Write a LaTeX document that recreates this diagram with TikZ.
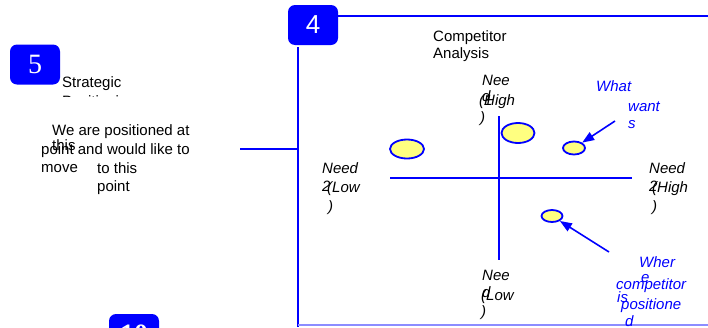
\documentclass[tikz,border=0pt]{standalone}
\usepackage{fontspec}
\setmainfont{Liberation Sans}
\newfontfamily\numfont{Liberation Serif}
\usetikzlibrary{shapes.geometric,arrows.meta}
\definecolor{pblue}{RGB}{0,0,255}
\definecolor{pyellow}{RGB}{255,255,128}
\definecolor{lblue}{RGB}{140,140,255}
\begin{document}
\begin{tikzpicture}[x=1pt,y=-1pt,
  numbox/.style={draw=none,fill=pblue,rounded corners=7pt,minimum width=50pt,minimum height=40pt,text=white,font=\numfont\fontsize{28}{28}\selectfont,inner sep=0},
  lbl/.style={anchor=base west,inner sep=0,font=\fontsize{15}{17}\selectfont},
  ilbl/.style={lbl,font=\fontsize{15}{17}\selectfont\itshape},
  blbl/.style={ilbl,text=pblue},
  frameline/.style={draw=pblue,line width=1.8pt},
  axisline/.style={draw=pblue,line width=1.8pt},
  blob/.style={ellipse,draw=pblue,fill=pyellow,line width=1.8pt,inner sep=0},
  pointer/.style={draw=pblue,line width=1.6pt,-{Triangle[length=12pt,width=9pt]}}]
\useasboundingbox (0,0) rectangle (708,327);
\clip (0,0) rectangle (708,327);

% frame
\coordinate (topL) at (338,16);
\coordinate (topR) at (708,16);
\coordinate (leftT) at (298,47);
\coordinate (leftB) at (298,327);
\coordinate (botL) at (298,325);
\coordinate (botR) at (708,325);
\coordinate (stubL) at (240,149);
\coordinate (stubR) at (298,149);
\draw[frameline] (topL) -- (topR);
\draw[frameline] (leftT) -- (leftB);
\draw[frameline] (stubL) -- (stubR);
\draw[draw=lblue,line width=1.8pt] (botL) -- (botR);

% number boxes
\node[numbox,font=\fontsize{26}{26}\selectfont] (b4) at (313,25) {4};
\node[numbox] (b5) at (35,64.5) {5};
\node[numbox,font=\numfont\bfseries\fontsize{28}{28}\selectfont] (b10) at (134,334) {10};

% left block
\node[lbl] (strat) at (62,87) {Strategic};
\begin{scope}
  \clip (0,0) rectangle (300,96.5);
  \node[lbl] (posit) at (62,106) {Positioning};
\end{scope}
\node[lbl] (we) at (52,135) {We are positioned at};
\node[lbl] (thisA) at (52,150) {this};
\node[lbl] (pointA) at (41,154) {point and would like to};
\node[lbl] (move) at (41,172) {move};
\node[lbl] (tothis) at (97,173) {to this};
\node[lbl] (pointB) at (97,191) {point};

% competitor analysis
\node[lbl] (comp) at (433,41) {Competitor};
\node[lbl] (anal) at (433,58) {Analysis};

% axes
\coordinate (hL) at (390,178);
\coordinate (hR) at (632,178);
\coordinate (vT) at (499,116);
\coordinate (vB) at (499,260);
\draw[axisline] (hL) -- (hR);
\draw[axisline] (vT) -- (vB);

% axis labels
\node[ilbl] (n1a) at (482,85) {Nee};
\node[ilbl] (n1b) at (482,101) {d};
\node[ilbl] (n1c) at (484,105) {1};
\node[ilbl] (n1d) at (479,105) {(High};
\node[ilbl] (n1e) at (480,122) {)};

\node[ilbl] (n2a) at (322,173) {Need};
\node[ilbl] (n2b) at (322,191) {2};
\node[ilbl] (n2c) at (327,192) {(Low};
\node[ilbl] (n2d) at (328,211) {)};

\node[ilbl] (n3a) at (649,173) {Need};
\node[ilbl] (n3b) at (649,191) {2};
\node[ilbl] (n3c) at (652,192) {(High};
\node[ilbl] (n3d) at (652,211) {)};

\node[ilbl] (n4a) at (482,280) {Nee};
\node[ilbl] (n4b) at (482,297) {d};
\node[ilbl] (n4c) at (481,300) {(Low};
\node[ilbl] (n4d) at (481,316) {)};

% ellipses
\node[blob,minimum width=34pt,minimum height=19pt] (e1) at (407,149) {};
\node[blob,minimum width=33pt,minimum height=20pt] (e2) at (518,133) {};
\node[blob,minimum width=22pt,minimum height=13pt] (e3) at (574,148) {};
\node[blob,minimum width=21pt,minimum height=12pt] (e4) at (552,216) {};

% blue annotations
\node[blbl] (whatA) at (596,91) {What};
\node[blbl] (whatB) at (628,111) {want};
\node[blbl] (whatC) at (628,128) {s};
\node[blbl] (whrA) at (639,267) {Wher};
\node[blbl] (whrB) at (641,282) {e};
\node[blbl] (whrC) at (616,289) {competitor};
\node[blbl] (whrD) at (617,302) {is};
\node[blbl] (whrE) at (621,309) {positione};
\node[blbl] (whrF) at (625,326) {d};

% pointers
\coordinate (wantsTail) at (615,121);
\coordinate (whrTail) at (609,252);
\draw[pointer] (wantsTail) -- (e3);
\draw[pointer] (whrTail) -- (e4);
\end{tikzpicture}
\end{document}
